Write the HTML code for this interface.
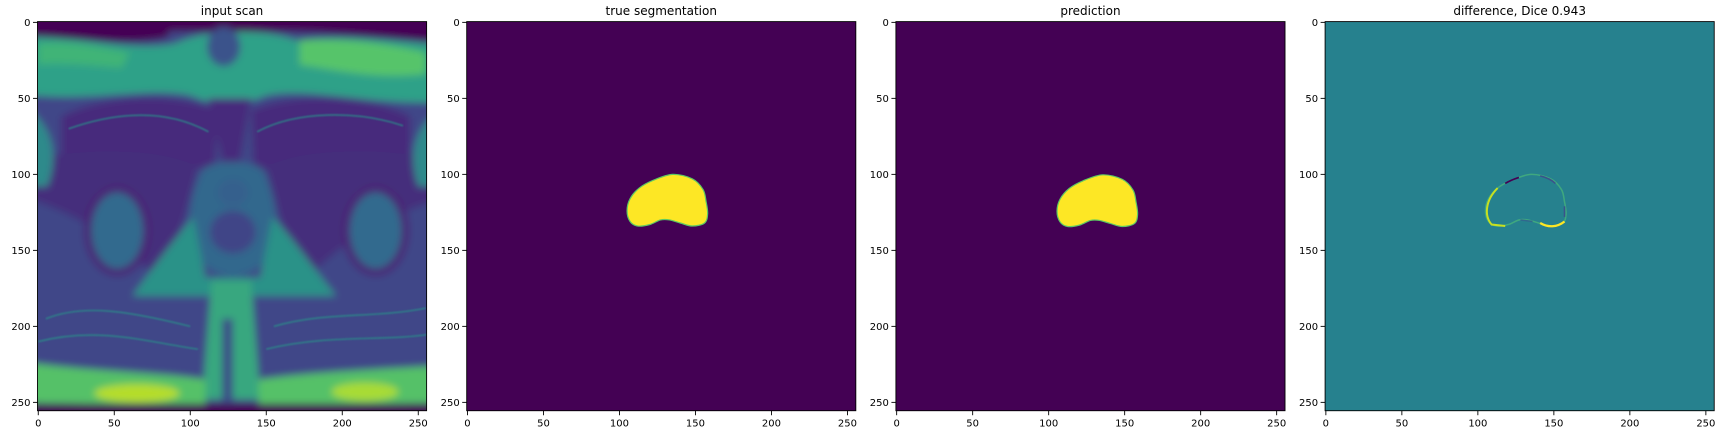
<!DOCTYPE html>
<html><head><meta charset="utf-8"><style>
html,body{margin:0;padding:0;background:#fff;width:1728px;height:432px;overflow:hidden}
svg text{font-family:"DejaVu Sans","Liberation Sans",sans-serif;fill:#000}
</style></head><body>
<svg id="fig" width="1728" height="432" viewBox="0 0 1728 432" xmlns="http://www.w3.org/2000/svg">
<defs>
<filter id="blur2" filterUnits="userSpaceOnUse" x="-40" y="-40" width="340" height="340"><feGaussianBlur stdDeviation="2.5"/></filter>
<filter id="blur05" filterUnits="userSpaceOnUse" x="-40" y="-40" width="340" height="340"><feGaussianBlur stdDeviation="0.6"/></filter>
<clipPath id="imgclip"><rect x="-0.5" y="-0.5" width="256" height="256"/></clipPath>
</defs>
</svg>
<script>
const titles = ["input scan","true segmentation","prediction","difference, Dice 0.943"];
const ticks = [0,50,100,150,200,250];
// prostate contour (data coords)
const blobX = [135,148,155,157,158,156,148,140,133,127,120,112,107,105,107,113,122];
const blobY = [100,103,110,118,126,132,134,132,130,130,133,134,131,124,116,109,104];
const predShiftX = 0.5, predShiftY = 0.3;

const NS="http://www.w3.org/2000/svg";
const svg=document.getElementById('fig');
const L0=37.5, DX=429.2, TOP=21.6, S=1.52;
function px(i,v){return L0+DX*i+(v+0.5)*S;}
function py(v){return TOP+(v+0.5)*S;}
function mk(tag,attrs,parent){const e=document.createElementNS(NS,tag);for(const k in attrs)e.setAttribute(k,attrs[k]);(parent||svg).appendChild(e);return e;}
function blobPath(dx,dy){
  let d='';const n=blobX.length;
  const P=blobX.map((x,i)=>[x+dx,blobY[i]+dy]);
  for(let i=0;i<n;i++){const p0=P[(i-1+n)%n],p1=P[i],p2=P[(i+1)%n],p3=P[(i+2)%n];
    if(i===0)d+='M'+p1[0]+','+p1[1];
    const c1=[p1[0]+(p2[0]-p0[0])/6,p1[1]+(p2[1]-p0[1])/6],c2=[p2[0]-(p3[0]-p1[0])/6,p2[1]-(p3[1]-p1[1])/6];
    d+=`C${c1[0]},${c1[1]} ${c2[0]},${c2[1]} ${p2[0]},${p2[1]}`;}
  return d+'Z';
}

for(let i=0;i<4;i++){
  const g=mk('g',{});
  
  
  const img=mk('g',{transform:`translate(${L0+DX*i},${TOP}) scale(${S}) translate(0.5,0.5)`,'clip-path':'url(#imgclip)'},g);
  
  
  if(i===0) drawScan(img);
  else if(i<3){
    mk('rect',{x:-0.5,y:-0.5,width:256,height:256,fill:'#440154'},img);
    const b=mk('path',{d:blobPath(i===2?predShiftX:0,i===2?predShiftY:0),fill:'#fde725',stroke:'#5ec962','stroke-width':0.8},img);
    
    
  } else {
    mk('rect',{x:-0.5,y:-0.5,width:256,height:256,fill:'#26818e'},img);
    const r=mk('path',{d:blobPath(0,0),fill:'none',stroke:'#3fa87f','stroke-width':1.0},img);
    
    
    mk('path',{d:'M113,109 C105,117 104,127 109,133 L118,134',fill:'none',stroke:'#c8e020','stroke-width':1.3},img);
    mk('path',{d:'M141,132 C146,135 152,135 157,131',fill:'none',stroke:'#fde725','stroke-width':1.5},img);
    mk('path',{d:'M118,106 C121,104 124,103 127,102',fill:'none',stroke:'#440154','stroke-width':1.1},img);
    mk('path',{d:'M141,101 C145,102 149,104 151,106',fill:'none',stroke:'#3b528b','stroke-width':1.0},img);
    mk('path',{d:'M157,121 L157,128',fill:'none',stroke:'#3b528b','stroke-width':1.0},img);
    mk('path',{d:'M128,130 L136,131',fill:'none',stroke:'#31688e','stroke-width':1.0},img);
  }
  const x0=L0+DX*i, x1=x0+256*S, y0=TOP, y1=TOP+256*S;
  const fr=mk('rect',{x:x0,y:y0,width:256*S,height:256*S,fill:'none',stroke:'#000','stroke-width':0.9},g);
  
  
  const t=mk('text',{x:(x0+x1)/2,y:15,'text-anchor':'middle','font-size':'12px'},g);
  t.textContent=titles[i];
  
  
  ticks.forEach(v=>{
    const X=px(i,v), Y=py(v);
    mk('line',{x1:X,x2:X,y1:y1,y2:y1+4.5,stroke:'#000','stroke-width':0.9},g);
    const tx=mk('text',{x:X,y:y1+16,'text-anchor':'middle','font-size':'10px'},g);
    tx.textContent=v;
    
    
    mk('line',{x1:x0,x2:x0-4.5,y1:Y,y2:Y,stroke:'#000','stroke-width':0.9},g);
    const ty=mk('text',{x:x0-7,y:Y+3.5,'text-anchor':'end','font-size':'10px'},g);
    ty.textContent=v;
    
    
  });
}

function drawScan(g){
  const b=mk('g',{filter:'url(#blur2)'},g);
  mk('rect',{x:-20,y:-20,width:300,height:300,fill:'#3f4788'},b);
  // top body band
  mk('path',{d:'M-20,10 C30,8 60,20 90,14 C110,4 150,4 170,12 C200,8 230,12 280,16 L280,52 C220,56 180,42 150,48 C130,56 120,56 100,48 C70,42 30,54 -20,46 Z',fill:'#2ea188'},b);
  mk('path',{d:'M172,12 C200,10 230,14 255,20 L255,34 C220,38 190,30 172,28 Z',fill:'#56c46b'},b);
  mk('path',{d:'M0,14 C20,12 40,16 60,20 L55,30 C30,28 10,26 0,28 Z',fill:'#40b477'},b);
  mk('rect',{x:-20,y:-20,width:300,height:26,fill:'#440154'},b);
  mk('path',{d:'M-20,-5 L90,-5 L85,10 C60,16 30,10 -20,8 Z',fill:'#440154'},b);
  mk('path',{d:'M150,-5 L280,-5 L280,14 C230,10 190,6 160,6 Z',fill:'#440154'},b);
  mk('ellipse',{cx:122,cy:16,rx:11,ry:13,fill:'#3b528b'},b);
  // upper muscles (dark)
  mk('path',{d:'M15,62 C40,48 90,45 118,58 L116,100 C90,90 50,80 15,88 Z',fill:'#462a7b'},b);
  mk('path',{d:'M140,58 C170,45 220,48 245,62 L245,88 C210,80 170,90 142,100 Z',fill:'#462a7b'},b);
  // lower big diagonal muscles
  mk('path',{d:'M-20,92 C30,82 80,82 105,95 C98,125 90,150 80,170 C60,150 30,125 -20,112 Z',fill:'#452d7c'},b);
  mk('path',{d:'M280,92 C225,82 175,82 150,95 C157,125 165,150 175,170 C195,150 225,125 280,112 Z',fill:'#452d7c'},b);
  // central V dark
  mk('path',{d:'M112,50 L140,50 L132,95 L122,95 Z',fill:'#462c7c'},b);
  // teal side strips
  mk('path',{d:'M-20,50 C8,60 15,85 6,108 L-20,108 Z',fill:'#2f8a8b'},b);
  mk('path',{d:'M280,50 C248,60 242,85 250,108 L280,108 Z',fill:'#2f8a8b'},b);
  // center prostate region
  mk('path',{d:'M108,97 C115,90 140,90 148,97 C158,120 160,140 148,158 C138,170 118,170 108,158 C96,140 98,118 108,97 Z',fill:'#31678d'},b);
  mk('ellipse',{cx:128,cy:138,rx:15,ry:14,fill:'#414487'},b);
  mk('ellipse',{cx:128,cy:112,rx:10,ry:9,fill:'#35608d'},b);
  // triangle green region
  mk('path',{d:'M62,180 C80,155 92,140 102,128 L110,168 L146,168 L154,128 C166,140 178,158 196,180 Z',fill:'#2a9288'},b);
  // femoral heads
  [[52,137],[222,137]].forEach(([cx,cy])=>{
    mk('ellipse',{cx:cx,cy:cy,rx:22,ry:30,fill:'#482576'},b);
    mk('ellipse',{cx:cx,cy:cy,rx:17,ry:25,fill:'#306a8e'},b);
  });
  // lower striated region
  mk('path',{d:'M-20,182 L112,180 L112,232 L-20,226 Z',fill:'#3f4688'},b);
  mk('path',{d:'M146,180 L280,182 L280,226 L146,232 Z',fill:'#3f4688'},b);
  mk('path',{d:'M114,170 L140,170 L146,248 L108,248 Z',fill:'#37a77f'},b);
  mk('rect',{x:121,y:195,width:7,height:60,fill:'#3b4b88'},b);
  // bottom bright band
  mk('path',{d:'M-20,222 C30,230 80,230 110,235 L110,252 L-20,250 Z',fill:'#55c168'},b);
  mk('path',{d:'M145,235 C180,230 230,228 280,225 L280,250 L145,252 Z',fill:'#55c168'},b);
  mk('ellipse',{cx:65,cy:244,rx:28,ry:6,fill:'#b5dd2b'},b);
  mk('ellipse',{cx:215,cy:243,rx:22,ry:6,fill:'#a8db34'},b);
  mk('rect',{x:-20,y:251,width:300,height:30,fill:'#440154'},b);
  // fine streaks
  const s=mk('g',{filter:'url(#blur05)',stroke:'#2a8c89','stroke-width':1.2,fill:'none',opacity:0.7},g);
  ['M5,195 C30,185 60,190 100,200','M0,210 C40,200 70,210 105,215','M155,200 C190,190 220,195 255,188','M150,215 C190,205 230,210 258,205','M20,70 C60,56 90,60 112,72','M144,72 C170,58 210,58 240,68'].forEach(d=>mk('path',{d},s));
}
</script>
</body></html>
